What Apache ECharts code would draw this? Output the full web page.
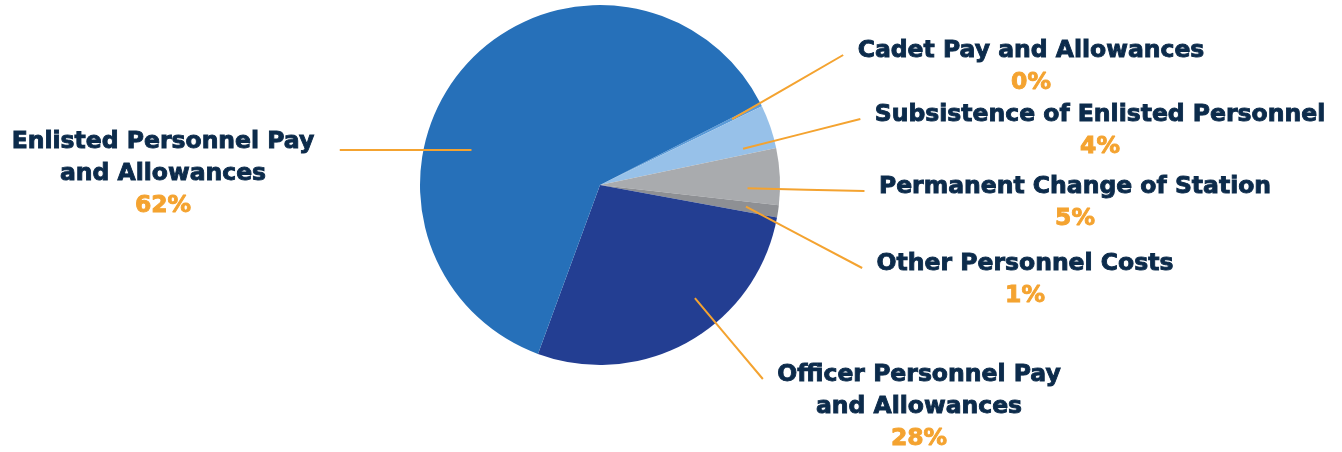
<!DOCTYPE html>
<html><head><meta charset="utf-8">
<script src="https://cdn.jsdelivr.net/npm/echarts@6/dist/echarts.min.js"></script>
<style>html,body{margin:0;padding:0;background:#fff}#c{width:1342px;height:452px}</style>
</head><body><div id="c"></div>
<script>
// ---- data ----
const categories = [
  'Cadet Pay and Allowances',
  'Subsistence of Enlisted Personnel',
  'Permanent Change of Station',
  'Other Personnel Costs',
  'Officer Personnel Pay\nand Allowances',
  'Enlisted Personnel Pay\nand Allowances'
];
const values = [0.3, 3.9, 5.1, 1.1, 27.7, 61.9];

// ---- style / layout ----
const sliceColors = ['#5b9bd8', '#97c1e9', '#a9abae', '#8e9094', '#233e92', '#2670b9'];
const CX = 600, CY = 185, R = 180, START = 27;
const labelPos = [[1031, 35], [1100, 99], [1075, 171], [1025, 248], [919, 359], [163, 126]];
const NAVY = '#0c2b4b', ORANGE = '#f4a330', LH = 32, FS = 23.5;

const total = values.reduce((a, b) => a + b, 0);
function sliceRange(i) {
  let acc = 0;
  for (let k = 0; k < i; k++) acc += values[k];
  const a0 = START - 360 * acc / total;
  const a1 = a0 - 360 * values[i] / total;
  return [a0, a1];
}

const txt = (color) => ({
  fontFamily: 'DejaVu Sans', fontWeight: 'bold', fontSize: FS, color: color,
  lineHeight: LH, align: 'center', textBorderColor: color, textBorderWidth: 0.9
});

const chart = echarts.init(document.getElementById('c'), null, { renderer: 'canvas' });
chart.setOption({
  backgroundColor: '#ffffff',
  animation: false,
  series: [{
    type: 'pie',
    z: 2,
    center: [CX, CY],
    radius: R,
    startAngle: START,
    clockwise: true,
    silent: true,
    data: categories.map((c, i) => ({ name: c, value: values[i], itemStyle: { color: sliceColors[i] } })),
    label: { show: false },
    labelLine: { show: false }
  }, {
    type: 'pie',
    z: 3,
    center: [CX, CY],
    radius: R,
    startAngle: START,
    clockwise: true,
    avoidLabelOverlap: false,
    silent: true,
    data: categories.map((c, i) => ({ name: c, value: values[i] })),
    itemStyle: { color: 'rgba(0,0,0,0)' },
    label: {
      show: true,
      position: 'outside',
      align: 'center',
      formatter: p => p.name.split('\n').map(s => '{n|' + s + '}').join('\n') + '\n{p|' + Math.round(p.percent) + '%}',
      rich: { n: txt(NAVY), p: txt(ORANGE) }
    },
    labelLine: { show: true, length: 10, length2: 10, lineStyle: { color: ORANGE, width: 2 } },
    labelLayout: function (p) {
      const i = p.dataIndex;
      const cx = labelPos[i][0], top = labelPos[i][1];
      const w = p.labelRect.width;
      const onLeft = cx < CX;
      let start, end;
      if (onLeft) {
        end = [cx + w / 2 + 25, top + LH / 2 + 8];
        const rr = 0.74 * R, dy = end[1] - CY;
        start = [CX - Math.sqrt(rr * rr - dy * dy), end[1]];
      } else {
        end = [cx - w / 2 - 14, top + LH / 2 + 4];
        const [a0, a1] = sliceRange(i);
        let ang = Math.atan2(-(end[1] - CY), end[0] - CX) * 180 / Math.PI;
        while (ang > a0) ang -= 360;
        while (ang <= a0 - 360) ang += 360;
        const m = 2;
        if (!(ang < a0 - m && ang > a1 + m)) ang = (a0 + a1) / 2;
        const rr = 0.82 * R;
        const rad = ang * Math.PI / 180;
        start = [CX + rr * Math.cos(rad), CY - rr * Math.sin(rad)];
      }
      const mid = [(start[0] + end[0]) / 2, (start[1] + end[1]) / 2];
      return { x: cx, y: top, align: 'center', verticalAlign: 'top', labelLinePoints: [start, mid, end] };
    }
  }]
});
</script></body></html>
